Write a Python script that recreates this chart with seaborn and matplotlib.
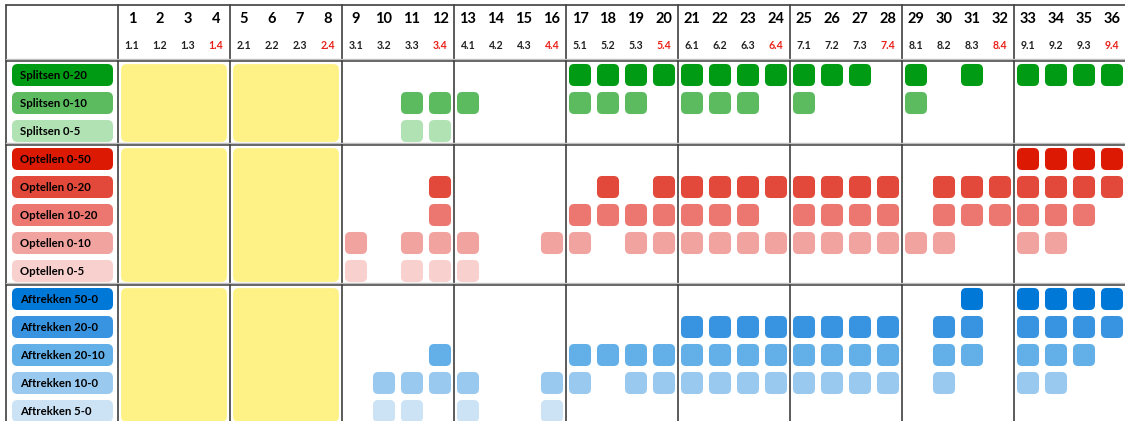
import matplotlib
matplotlib.use("Agg")
import matplotlib.pyplot as plt
import pandas as pd
import seaborn as sns
from matplotlib.patches import FancyBboxPatch

# ---------------- data ----------------
skills = [
    "Splitsen 0-20", "Splitsen 0-10", "Splitsen 0-5",
    "Optellen 0-50", "Optellen 0-20", "Optellen 10-20", "Optellen 0-10", "Optellen 0-5",
    "Aftrekken 50-0", "Aftrekken 20-0", "Aftrekken 20-10", "Aftrekken 10-0", "Aftrekken 5-0",
]
groups = [["Splitsen 0-20", "Splitsen 0-10", "Splitsen 0-5"],
          ["Optellen 0-50", "Optellen 0-20", "Optellen 10-20", "Optellen 0-10", "Optellen 0-5"],
          ["Aftrekken 50-0", "Aftrekken 20-0", "Aftrekken 20-10", "Aftrekken 10-0", "Aftrekken 5-0"]]

lesson_numbers = [str(i) for i in range(1, 37)]
sub_labels = ["1.1", "1.2", "1.3", "1.4", "2.1", "2.2", "2.3", "2.4", "3.1", "3.2", "3.3", "3.4",
              "4.1", "4.2", "4.3", "4.4", "5.1", "5.2", "5.3", "5.4", "6.1", "6.2", "6.3", "6.4",
              "7.1", "7.2", "7.3", "7.4", "8.1", "8.2", "8.3", "8.4", "9.1", "9.2", "9.3", "9.4"]
highlight_sub = ["1.4", "2.4", "3.4", "4.4", "5.4", "6.4", "7.4", "8.4", "9.4"]
yellow_lessons = [[1, 2, 3, 4], [5, 6, 7, 8]]

splitsen_0_20 = [17, 18, 19, 20, 21, 22, 23, 24, 25, 26, 27, 29, 31, 33, 34, 35, 36]
splitsen_0_10 = [11, 12, 13, 17, 18, 19, 21, 22, 23, 25, 29]
splitsen_0_5 = [11, 12]
optellen_0_50 = [33, 34, 35, 36]
optellen_0_20 = [12, 18, 20, 21, 22, 23, 24, 25, 26, 27, 28, 30, 31, 32, 33, 34, 35, 36]
optellen_10_20 = [12, 17, 18, 19, 20, 21, 22, 23, 25, 26, 27, 28, 30, 31, 32, 33, 34, 35]
optellen_0_10 = [9, 11, 12, 13, 16, 17, 19, 20, 21, 22, 23, 24, 25, 26, 27, 28, 29, 30, 33, 34]
optellen_0_5 = [9, 11, 12, 13]
aftrekken_50_0 = [31, 33, 34, 35, 36]
aftrekken_20_0 = [21, 22, 23, 24, 25, 26, 27, 28, 30, 31, 33, 34, 35, 36]
aftrekken_20_10 = [12, 17, 18, 19, 20, 21, 22, 23, 24, 25, 26, 27, 28, 30, 31, 33, 34, 35]
aftrekken_10_0 = [10, 11, 12, 13, 16, 17, 19, 20, 21, 22, 23, 24, 25, 26, 27, 28, 30, 33, 34]
aftrekken_5_0 = [10, 11, 13, 16]

lessons_per_skill = [splitsen_0_20, splitsen_0_10, splitsen_0_5,
                     optellen_0_50, optellen_0_20, optellen_10_20, optellen_0_10, optellen_0_5,
                     aftrekken_50_0, aftrekken_20_0, aftrekken_20_10, aftrekken_10_0, aftrekken_5_0]

colors = ["#009b14", "#5cba5f", "#b0e2b3",
          "#dc1a04", "#e2493a", "#ec7670", "#f1a3a0", "#f8d0cd",
          "#0078d8", "#3894e1", "#63afe7", "#9ac9f0", "#cce3f6"]
palette = dict(zip(skills, colors))
YELLOW = "#fef286"
LINE = "#404040"
RED = "#e8231c"

# --------------- long-form table ---------------
records = []
for k, (skill, lessons) in enumerate(zip(skills, lessons_per_skill)):
    for les in lessons:
        records.append((skill, les, k))
df = pd.DataFrame(records, columns=["skill", "les", "rij"])

# --------------- figure ---------------
sns.set_theme(style="white")
plt.rcParams["font.family"] = ["Lato", "DejaVu Sans"]

fig = plt.figure(figsize=(11.25, 4.21), dpi=100)
ax = fig.add_axes([0, 0, 1, 1])

# rounded-square marker
rr = FancyBboxPatch((-0.5, -0.5), 1, 1, boxstyle="round,pad=0,rounding_size=0.24")
marker_path = rr.get_path()

# yellow blocks per group
row_of = {s: i for i, s in enumerate(skills)}
inset = 0.11
for g in groups:
    r0, r1 = row_of[g[0]], row_of[g[-1]]
    for blk in yellow_lessons:
        ax.add_patch(FancyBboxPatch((blk[0] - 0.5 + inset, r0 - 0.5 + inset),
                                    len(blk) - 2 * inset, (r1 - r0 + 1) - 2 * inset,
                                    boxstyle="round,pad=0,rounding_size=0.2",
                                    facecolor=YELLOW, edgecolor="none", zorder=1))

# cells
sns.scatterplot(data=df, x="les", y="rij", hue="skill", palette=palette,
                marker=marker_path, s=252, linewidth=0, legend=False, ax=ax, zorder=3)
ax.set_xlim(-104 / 28, 1021 / 28)
ax.set_ylim(346 / 28, -75 / 28)
ax.axis("off")

# skill labels
for k, skill in enumerate(skills):
    ax.add_patch(FancyBboxPatch((-3.286, k - 0.393), 3.607, 0.786,
                                boxstyle="round,pad=0,rounding_size=0.2",
                                facecolor=palette[skill], edgecolor="none", zorder=2))
    ax.text(-3.0, k + 0.03, skill, ha="left", va="center", fontsize=8.2,
            fontweight="bold", color="black", zorder=4)

# header
for i, (num, sub) in enumerate(zip(lesson_numbers, sub_labels)):
    x = i + 1
    ax.text(x, -2.0, num, ha="center", va="center", fontsize=10.5, fontweight="bold",
            color="black")
    ax.text(x, -1.04, sub, ha="center", va="center", fontsize=7.6, fontweight="bold",
            color=RED if sub in highlight_sub else "#222222")

# grid lines
top, bottom, left, right = -2.5, 13.0, -3.5, 36.55
ax.plot([left, right], [top, top], color=LINE, lw=1.2, zorder=5)
ax.plot([left, left], [top, bottom], color=LINE, lw=1.2, zorder=5)
for xv in [0.5, 4.5, 8.5, 12.5, 16.5, 20.5, 24.5, 28.5, 32.5]:
    ax.plot([xv, xv], [top, bottom], color=LINE, lw=1.2, zorder=5)
for yv in [-0.5, 2.5, 7.5]:
    ax.plot([left, right], [yv - 0.07, yv - 0.07], color="#c0c0c0", lw=1.0, zorder=5)
    ax.plot([left, right], [yv, yv], color=LINE, lw=1.1, zorder=5)

fig.savefig("out.png", dpi=100)
